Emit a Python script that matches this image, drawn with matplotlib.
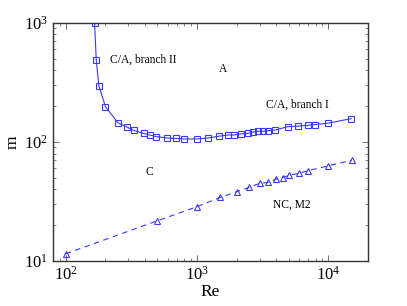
import numpy as np
import matplotlib
matplotlib.use("Agg")
import matplotlib.pyplot as plt

# C/A curve (branches II and I), squares
re_ca = [166, 171, 179, 201, 250, 295, 331, 392, 441, 490, 593, 695, 794,
         1000, 1220, 1480, 1720, 1900, 2170, 2430, 2650, 2900, 3170, 3500,
         3950, 4900, 5900, 6950, 7900, 10000, 14900]
m_ca = [1000, 489, 296, 198, 145, 133, 125, 118, 114, 111, 108, 107, 106,
        106, 108, 112, 114.5, 114.5, 117, 118, 121, 123, 123, 124.5,
        126, 134.5, 136, 138, 140, 144, 157]

# NC, M2 curve, triangles
re_nc = [100, 500, 1000, 1500, 2000, 2500, 3000, 3500, 4000, 4500, 5000,
         6000, 7000, 10000, 15000]
m_nc = [11.5, 21.8, 28.6, 34.2, 38.2, 41.6, 45.0, 45.8, 48.9, 50.3, 52.5,
        54.6, 57.4, 63.1, 70.2]

plt.rcParams['font.family'] = ['Liberation Serif', 'DejaVu Serif']
plt.rcParams['mathtext.fontset'] = 'stix'

fig = plt.figure(figsize=(4.07, 3.06), dpi=100)
ax = fig.add_axes([0.130, 0.147, 0.774, 0.778])

blue = '#3a3aff'
ax.plot(re_ca, m_ca, '-', color=blue, lw=0.8, marker='s', ms=4,
        mfc='none', mec=blue, mew=0.8)
ax.plot(re_nc, m_nc, '--', color=blue, lw=0.8, marker='^', ms=4.5,
        mfc='none', mec=blue, mew=0.8, dashes=(5, 4))

ax.set_xscale('log')
ax.set_yscale('log')
ax.set_xlim(80, 2e4)
ax.set_ylim(10, 1000)

ax.text(216, 489, 'C/A, branch II', fontsize=8.3, va='center', ha='left')
ax.text(1590, 410, 'A', fontsize=8.3, va='center', ha='center')
ax.text(3370, 205, 'C/A, branch I', fontsize=8.3, va='center', ha='left')
ax.text(435, 56, 'C', fontsize=8.3, va='center', ha='center')
ax.text(3820, 29.6, 'NC, M2', fontsize=8.3, va='center', ha='left')

ax.set_xlabel('Re', fontsize=12.5, labelpad=0)
ax.set_ylabel('m', fontsize=12.5, labelpad=2)

ax.tick_params(which='both', direction='in', top=True, right=True,
               labelsize=12, color='#555555')
ax.tick_params(which='major', length=4, width=0.6)
ax.tick_params(which='minor', length=2, width=0.5)
for s in ax.spines.values():
    s.set_linewidth(1.0)
    s.set_color('#333333')

fig.savefig('out.png', dpi=100)
